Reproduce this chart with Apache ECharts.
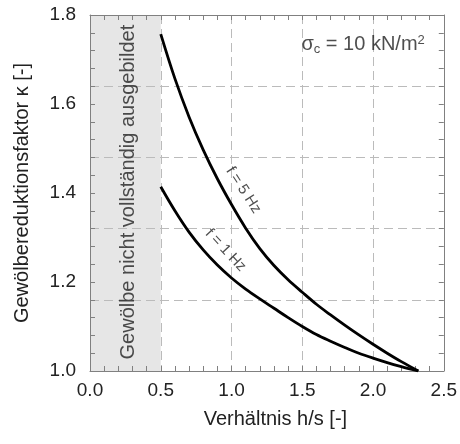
<!DOCTYPE html>
<html>
<head>
<meta charset="utf-8">
<script src="https://cdn.jsdelivr.net/npm/echarts@6/dist/echarts.min.js"></script>
<style>html,body{margin:0;padding:0;background:#fff}#chart{width:460px;height:444px}</style>
</head>
<body>
<div id="chart"></div>
<script>
// Verhältnis h/s values
const hs5 = [0.5, 0.6, 0.7, 0.8, 0.9, 1.0, 1.1, 1.2, 1.3, 1.4, 1.5, 1.6, 1.7, 1.8, 1.9, 2.0, 2.1, 2.2, 2.32];
const kappa5 = [1.757, 1.657, 1.571, 1.497, 1.432, 1.374, 1.321, 1.275, 1.237, 1.205, 1.177, 1.150, 1.126, 1.103, 1.081, 1.060, 1.040, 1.021, 1.0];
const hs1 = [0.5, 0.6, 0.7, 0.8, 0.9, 1.0, 1.1, 1.2, 1.3, 1.4, 1.5, 1.6, 1.7, 1.8, 1.9, 2.0, 2.1, 2.2, 2.32];
const kappa1 = [1.414, 1.360, 1.312, 1.272, 1.238, 1.209, 1.184, 1.162, 1.141, 1.120, 1.100, 1.082, 1.067, 1.053, 1.040, 1.029, 1.019, 1.010, 1.0];
const seriesNames = ['f = 5 Hz', 'f = 1 Hz'];
const bandRange = [0, 0.5];
const bandText = 'Gewölbe nicht vollständig ausgebildet';
const xTitle = 'Verhältnis h/s [-]';
const yTitle = 'Gewölbereduktionsfaktor κ [-]';

const FONT = 'Liberation Sans, Arial, sans-serif';
const axisColor = '#808080';
const textColor = '#222';

function pairs(xs, ys) { return xs.map((x, i) => [x, ys[i]]); }

const chart = echarts.init(document.getElementById('chart'));
const frameAxis = {
  axisLine: { show: true, onZero: false, lineStyle: { color: axisColor, width: 1 } },
  axisTick: { show: true, inside: true, length: 5, lineStyle: { color: axisColor } },
  minorTick: { show: true, splitNumber: 5, length: 5, lineStyle: { color: axisColor } }
};
const dash = { color: '#bbbbbb', width: 1, type: [9, 5] };

const option = {
  animation: false,
  textStyle: { fontFamily: FONT },
  grid: { left: 90, right: 15, top: 15, bottom: 73 },
  xAxis: [
    Object.assign({
      type: 'value', min: 0, max: 2.5, interval: 0.5, position: 'bottom',
      name: xTitle, nameLocation: 'middle', nameGap: 38,
      nameTextStyle: { fontSize: 20, color: textColor, fontFamily: FONT, padding: [0, 0, 0, 17] },
      axisLabel: { fontSize: 19, color: textColor, margin: 10, fontFamily: FONT, formatter: v => v.toFixed(1) },
      splitLine: { show: true, lineStyle: dash }
    }, frameAxis),
    Object.assign({
      type: 'value', min: 0, max: 2.5, interval: 0.5, position: 'top',
      axisLabel: { show: false }, splitLine: { show: false }
    }, frameAxis)
  ],
  yAxis: [
    Object.assign({
      type: 'value', min: 1.0, max: 1.8, interval: 0.2, position: 'left',
      name: yTitle, nameLocation: 'middle', nameGap: 58,
      nameTextStyle: { fontSize: 20, color: textColor, fontFamily: FONT },
      axisLabel: { fontSize: 19, color: textColor, margin: 14, fontFamily: FONT, formatter: v => v.toFixed(1) },
      splitLine: { show: false }
    }, frameAxis),
    Object.assign({
      type: 'value', min: 1.0, max: 1.8, interval: 0.2, position: 'right',
      axisLabel: { show: false }, splitLine: { show: false }
    }, frameAxis),
    {
      type: 'value', min: 0, max: 5, interval: 1, position: 'right',
      axisLine: { show: false }, axisTick: { show: false }, axisLabel: { show: false },
      splitLine: { show: true, lineStyle: dash }
    }
  ],
  series: [
    {
      type: 'line', data: [], xAxisIndex: 0, yAxisIndex: 0, z: 0,
      markArea: {
        silent: true, z: -1,
        itemStyle: { color: '#e6e6e6' },
        data: [[{ xAxis: bandRange[0] }, { xAxis: bandRange[1] }]]
      }
    },
    {
      name: seriesNames[0], type: 'line', data: pairs(hs5, kappa5), smooth: 0.35,
      showSymbol: false, lineStyle: { color: '#000', width: 2.8 }, z: 5
    },
    {
      name: seriesNames[1], type: 'line', data: pairs(hs1, kappa1), smooth: 0.35,
      showSymbol: false, lineStyle: { color: '#000', width: 2.8 }, z: 5
    },
    {
      type: 'scatter', symbolSize: 0, z: 6, silent: true,
      data: [
        { value: [1.084, 1.4065], label: { formatter: seriesNames[0], rotate: -57 } },
        { value: [0.958, 1.2715], label: { formatter: seriesNames[1], rotate: -47 } },
        { value: [0.27, 1.402], label: { formatter: bandText, rotate: 90, fontSize: 20 } },
        { value: [1.93, 1.733], label: {
            formatter: '{a|σ}{s|c}{a| = 10 kN/m}{p|2}',
            rich: {
              a: { fontSize: 20, color: textColor, fontFamily: FONT, lineHeight: 24 },
              s: { fontSize: 13, color: textColor, fontFamily: FONT, lineHeight: 24, padding: [9, 0, 0, 0] },
              p: { fontSize: 13, color: textColor, fontFamily: FONT, lineHeight: 24, padding: [0, 0, 8, 0] }
            }
        } }
      ],
      label: { show: true, position: 'inside', fontSize: 15, color: textColor, fontFamily: FONT }
    }
  ]
};
chart.setOption(option);
</script>
</body>
</html>
